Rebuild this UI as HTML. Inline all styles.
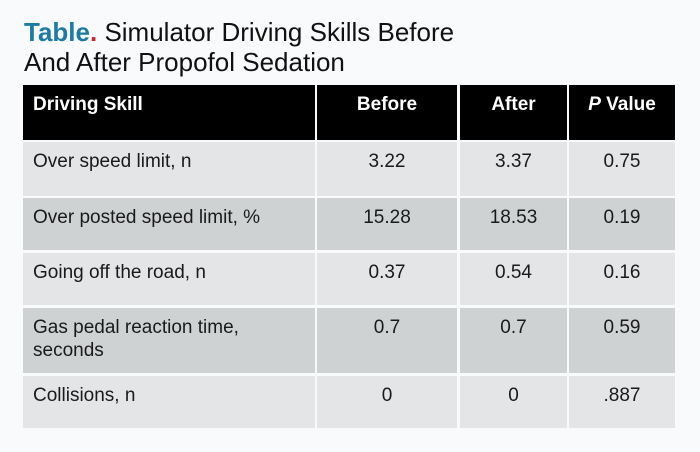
<!DOCTYPE html>
<html><head><meta charset="utf-8"><style>
body{margin:0;width:700px;height:452px;background:#f9fafb;font-family:"Liberation Sans",Arial,sans-serif;position:relative;overflow:hidden}
.t{position:absolute;left:24px;font-size:26px;color:#111;line-height:30px}
.c{position:absolute;box-sizing:border-box;font-size:19px;color:#1a1a1a;padding-top:8px;line-height:23px}
.h{background:#000;color:#fff;font-weight:bold}
.l{background:#e3e5e6}.d{background:#cfd2d3}
.ctr{text-align:center}.lft{padding-left:10px}
</style></head><body>
<div class="t" style="top:17px"><b style="color:#1b7ba3">Table<span style="color:#c8202f">.</span></b> Simulator Driving Skills Before<br>And After Propofol Sedation</div>
<div id="tbl"></div>
<script>
const cols=[[23,315],[317,457],[460,567],[569,675]];
const rows=[[85,140],[142,196],[198,250],[253,305],[308,373],[376,428]];
const headers=["Driving Skill","Before","After","<i>P</i> Value"];
const skills=["Over speed limit, n","Over posted speed limit, %","Going off the road, n","Gas pedal reaction time,<br>seconds","Collisions, n"];
const before=["3.22","15.28","0.37","0.7","0"];
const after=["3.37","18.53","0.54","0.7","0"];
const pvals=["0.75","0.19","0.16","0.59",".887"];
const tbl=document.getElementById('tbl');
function cell(r,c,html,cls,name){
  const el=document.createElement('div');
  el.className='c '+cls+(c===0?' lft':' ctr');
  el.style.left=cols[c][0]+'px';el.style.width=(cols[c][1]-cols[c][0])+'px';
  el.style.top=rows[r][0]+'px';el.style.height=(rows[r][1]-rows[r][0])+'px';
  el.innerHTML=html;
  
  
  tbl.appendChild(el);
}
headers.forEach((h,c)=>cell(0,c,h,'h','header-cell'));
for(let i=0;i<skills.length;i++){
  const cls=i%2===0?'l':'d';
  cell(i+1,0,skills[i],cls,'skill-cell');
  cell(i+1,1,before[i],cls,'before-cell');
  cell(i+1,2,after[i],cls,'after-cell');
  cell(i+1,3,pvals[i],cls,'p-value-cell');
}
</script>
</body></html>
